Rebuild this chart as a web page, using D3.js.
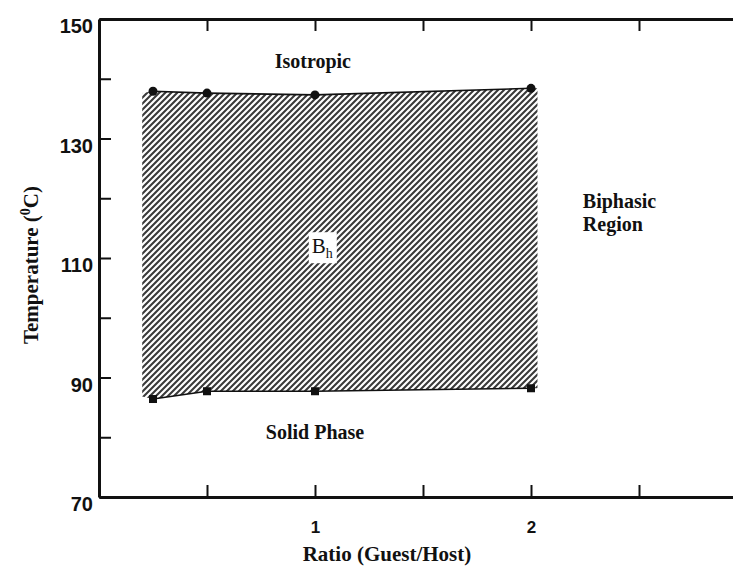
<!DOCTYPE html>
<html>
<head>
<meta charset="utf-8">
<script src="https://cdn.jsdelivr.net/npm/d3@7"></script>
<style>
  body { margin: 0; background: #fff; }
  svg { display: block; }
  .tick text { font-family: "Liberation Sans", Arial, sans-serif; font-weight: bold; fill: #111; }
  .lbl { font-family: "Liberation Serif", "Times New Roman", serif; font-weight: bold; fill: #111; }
</style>
</head>
<body>
<div id="chart"></div>
<script>
// measured points (guest/host ratio vs transition temperature)
var ratios = [0.25, 0.5, 1, 2];
var clearing = [137.9, 137.6, 137.3, 138.4];   // upper boundary, circles
var melting = [86.4, 87.7, 87.7, 88.2];        // lower boundary, squares

// hatched B_h region outline
var hatchRatio = [0.2, 0.25, 0.5, 1, 2, 2.03];
var hatchTop = [137.6, 137.9, 137.6, 137.3, 138.4, 138.4];
var hatchBottom = [86.8, 86.4, 87.7, 87.7, 88.2, 88.2];

var yTicks = [70, 80, 90, 100, 110, 120, 130, 140, 150];
var yLabels = [70, 90, 110, 130, 150];
var xTicks = [0.5, 1, 1.5, 2, 2.5];
var xLabels = [1, 2];

var width = 733, height = 568;

var x = d3.scaleLinear().domain([0, 3]).range([99, 747]);
var y = d3.scaleLinear().domain([70, 150]).range([497, 19]);

var svg = d3.select("#chart").append("svg")
    .attr("width", width)
    .attr("height", height);

var defs = svg.append("defs");
var pat = defs.append("pattern")
    .attr("id", "hatch")
    .attr("patternUnits", "userSpaceOnUse")
    .attr("width", 6)
    .attr("height", 6);
pat.append("path")
    .attr("d", "M-1,1 l2,-2 M0,6 l6,-6 M5,7 l2,-2")
    .attr("stroke", "#3a3a3a")
    .attr("stroke-width", 2.1);

// hatched region
var hatchData = hatchRatio.map(function(r, i) { return {x: r, top: hatchTop[i], bottom: hatchBottom[i]}; });
var area = d3.area()
    .x(function(d) { return x(d.x); })
    .y0(function(d) { return y(d.bottom); })
    .y1(function(d) { return y(d.top); });
svg.append("path")
    .datum(hatchData)
    .attr("d", area)
    .attr("fill", "url(#hatch)");

// axes
function styleAxis(g) {
  g.select(".domain").attr("stroke", "#111").attr("stroke-width", 3);
  g.selectAll(".tick line").attr("stroke", "#111").attr("stroke-width", 2);
}

var yAxis = svg.append("g")
    .attr("transform", "translate(" + x(0) + ",0)")
    .call(d3.axisLeft(y)
      .tickValues(yTicks)
      .tickSizeInner(-12)
      .tickSizeOuter(0)
      .tickPadding(6)
      .tickFormat(function(d) { return yLabels.indexOf(d) >= 0 ? d : ""; }));
yAxis.selectAll(".tick text")
    .attr("font-size", 20)
    .attr("dy", "0.68em");
yAxis.call(styleAxis);

var xAxis = svg.append("g")
    .attr("transform", "translate(0," + y(70) + ")")
    .call(d3.axisBottom(x)
      .tickValues(xTicks)
      .tickSizeInner(-12)
      .tickSizeOuter(0)
      .tickPadding(24)
      .tickFormat(function(d) { return xLabels.indexOf(d) >= 0 ? d : ""; }));
xAxis.selectAll(".tick text").attr("font-size", 17);
xAxis.call(styleAxis);

var topAxis = svg.append("g")
    .attr("transform", "translate(0," + y(150) + ")")
    .call(d3.axisTop(x)
      .tickValues(xTicks)
      .tickSizeInner(-12)
      .tickSizeOuter(0)
      .tickFormat(""));
topAxis.call(styleAxis);

// boundary lines
var upper = ratios.map(function(r, i) { return [r, clearing[i]]; });
var lower = ratios.map(function(r, i) { return [r, melting[i]]; });
var line = d3.line()
    .x(function(d) { return x(d[0]); })
    .y(function(d) { return y(d[1]); });

svg.append("path").datum(upper)
    .attr("d", line).attr("fill", "none")
    .attr("stroke", "#111").attr("stroke-width", 1.6);
svg.append("path").datum(lower)
    .attr("d", line).attr("fill", "none")
    .attr("stroke", "#111").attr("stroke-width", 1.6);

svg.selectAll(".dot").data(upper).enter().append("circle")
    .attr("class", "dot")
    .attr("cx", function(d) { return x(d[0]); })
    .attr("cy", function(d) { return y(d[1]); })
    .attr("r", 4.5)
    .attr("fill", "#111");

svg.selectAll(".sq").data(lower).enter().append("rect")
    .attr("class", "sq")
    .attr("x", function(d) { return x(d[0]) - 4; })
    .attr("y", function(d) { return y(d[1]) - 4; })
    .attr("width", 8)
    .attr("height", 8)
    .attr("fill", "#111");

// region labels
var notes = [
  {t: "Isotropic", x: 0.99, y: 141.8, anchor: "middle"},
  {t: "Solid Phase", x: 1.0, y: 79.7, anchor: "middle"},
  {t: "Biphasic", x: 2.24, y: 118.4, anchor: "start"},
  {t: "Region", x: 2.24, y: 114.6, anchor: "start"}
];
svg.selectAll(".note").data(notes).enter().append("text")
    .attr("class", "lbl note")
    .attr("x", function(d) { return x(d.x); })
    .attr("y", function(d) { return y(d.y); })
    .attr("text-anchor", function(d) { return d.anchor; })
    .attr("font-size", 20)
    .text(function(d) { return d.t; });

// B_h label on white patch
var bh = svg.append("g");
var bhBox = bh.append("rect").attr("fill", "#fff");
var bhText = bh.append("text")
    .attr("x", x(0.985))
    .attr("y", y(110.8))
    .attr("font-family", "Liberation Serif, serif")
    .attr("font-size", 21)
    .attr("fill", "#111");
bhText.append("tspan").text("B");
bhText.append("tspan").attr("font-size", 14).attr("dy", 5).text("h");
var bb = bhText.node().getBBox();
bhBox.attr("x", bb.x - 3).attr("y", bb.y - 2)
    .attr("width", bb.width + 7).attr("height", bb.height + 4);

// axis titles
svg.append("text")
    .attr("class", "lbl")
    .attr("x", 387)
    .attr("y", 561)
    .attr("text-anchor", "middle")
    .attr("font-size", 21)
    .text("Ratio (Guest/Host)");

var yt = svg.append("text")
    .attr("class", "lbl")
    .attr("transform", "translate(38,265) rotate(-90)")
    .attr("text-anchor", "middle")
    .attr("font-size", 21);
yt.append("tspan").text("Temperature (");
yt.append("tspan").attr("font-size", 14).attr("dy", -8).text("0");
yt.append("tspan").attr("dy", 8).text("C)");
</script>
</body>
</html>
